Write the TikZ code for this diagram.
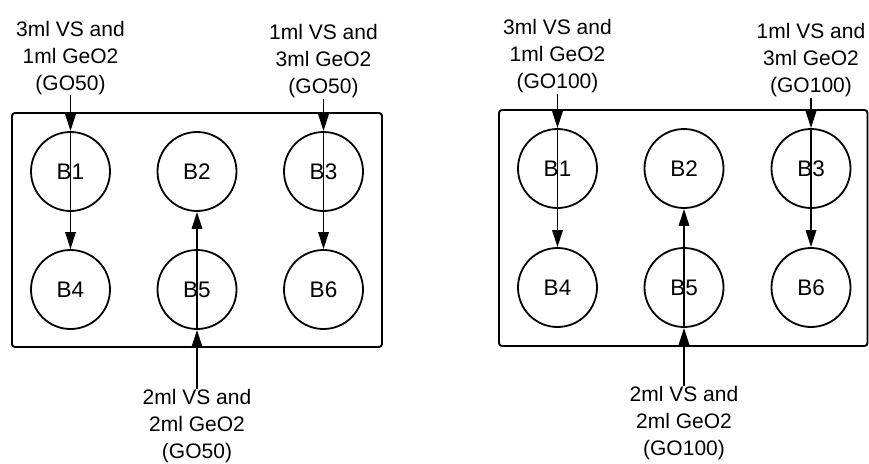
\documentclass[tikz,border=0pt]{standalone}
\usepackage{fontspec}
\setmainfont{Liberation Sans}
\usetikzlibrary{arrows.meta}
\begin{document}
\begin{tikzpicture}[x=1pt,y=-1pt,
  well/.style={draw,circle,line width=1.8pt,minimum size=79pt,inner sep=0pt,font=\fontsize{22.5}{27}\selectfont},
  plate/.style={draw,line width=1.9pt,rounded corners=3pt},
  lab/.style={align=center,inner sep=0pt,font=\fontsize{21}{27}\selectfont},
  flow/.style={line width=1.5pt,-{Triangle[length=17pt,width=10.5pt]}}]
\useasboundingbox (0,0) rectangle (869,463);
% ---------- left panel ----------
\draw[plate] (12,113) rectangle (382,347);
\node[well] (a1) at (70.5,171.5) {B1};
\node[well] (a2) at (197,171.5) {B2};
\node[well] (a3) at (323.5,171.5) {B3};
\node[well] (a4) at (70.5,289.5) {B4};
\node[well] (a5) at (197,289.5) {B5};
\node[well] (a6) at (323.5,289.5) {B6};
\node[lab,anchor=south] (la1) at (70.5,95) {3ml VS and\\1ml GeO2\\(GO50)};
\node[lab,anchor=south] (la3) at (323.5,98.5) {1ml VS and\\3ml GeO2\\(GO50)};
\node[lab,anchor=north] (la5) at (197,389) {2ml VS and\\2ml GeO2\\(GO50)};
\draw[flow] (la1.south) -- (a1.north);
\draw[flow] (a1.north) -- (a4.north);
\draw[flow] (la3.south) -- (a3.north);
\draw[flow] (a3.north) -- (a6.north);
\draw[flow] (la5.north) -- (a5.south);
\draw[flow] (a5.south) -- (a2.south);
% ---------- right panel ----------
\draw[plate] (499,110) rectangle (867.5,346);
\node[well] (b1) at (557.5,168.5) {B1};
\node[well] (b2) at (684,168.5) {B2};
\node[well] (b3) at (811,168.5) {B3};
\node[well] (b4) at (557.5,287.5) {B4};
\node[well] (b5) at (684,287.5) {B5};
\node[well] (b6) at (811,287.5) {B6};
\node[lab,anchor=south] (lb1) at (557.5,93.5) {3ml VS and\\1ml GeO2\\(GO100)};
\node[lab,anchor=south] (lb3) at (811,97.5) {1ml VS and\\3ml GeO2\\(GO100)};
\node[lab,anchor=north] (lb5) at (684,386) {2ml VS and\\2ml GeO2\\(GO100)};
\draw[flow] (lb1.south) -- (b1.north);
\draw[flow] (b1.north) -- (b4.north);
\draw[flow] (lb3.south) -- (b3.north);
\draw[flow] (b3.north) -- (b6.north);
\draw[flow] (lb5.north) -- (b5.south);
\draw[flow] (b5.south) -- (b2.south);
\end{tikzpicture}
\end{document}
